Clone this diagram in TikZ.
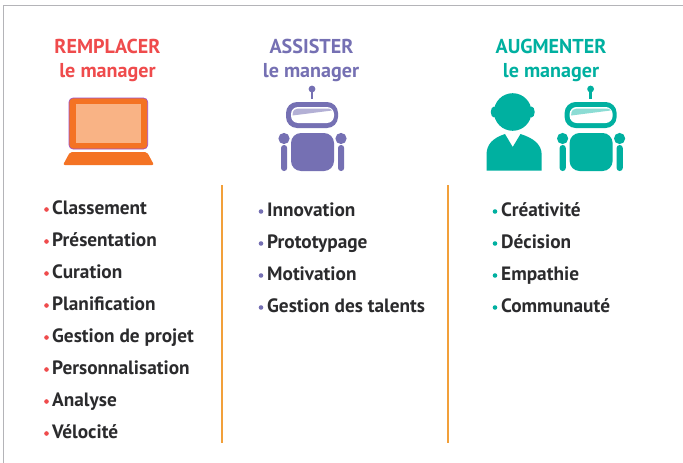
\documentclass[tikz,border=0pt]{standalone}
\usepackage{fontspec}
\setmainfont{PT Sans}
\definecolor{cred}{HTML}{EF4B4C}
\definecolor{cpur}{HTML}{7570B3}
\definecolor{cteal}{HTML}{00B0A0}
\definecolor{cor}{HTML}{F47324}
\definecolor{cscr}{HTML}{F9B385}
\definecolor{cline}{HTML}{F2A03A}
\definecolor{cframe}{HTML}{B4B4B8}
\definecolor{cink}{HTML}{2B2B2D}
\tikzset{
  x=1pt,y=-1pt,
  title/.style={font=\bfseries\fontsize{20.1}{21}\selectfont,anchor=base,inner sep=0pt},
  item/.style={font=\bfseries\fontsize{19.3}{20}\selectfont,text=cink,anchor=base west,inner sep=0pt},
  dotmark/.style={circle,inner sep=0pt,minimum size=4.6pt},
  sep/.style={draw=cline,line width=1.8pt},
}
\newcommand{\robot}[3]{% dx, colour, highlight
  \begin{scope}[xshift=#1pt]
    \fill[#2] (312,89) circle (3.4);
    \fill[#2] (310.8,90) rectangle (313.2,99);
    \fill[#2,rounded corners=11pt] (286,102) rectangle (338,128);
    \fill[white,rounded corners=7pt] (291,107) rectangle (334,123);
    \fill[#3] (292.5,115.5) .. controls (292.5,110) and (295,108.5) .. (298,108.5) -- (328,108.5) .. controls (330,108.5) and (331.5,109.5) .. (332,110.5) -- cycle;
    \fill[#2,rounded corners=10pt] (291,133) rectangle (334,171);
    \fill[#2] (284,138.5) circle (5.6);
    \fill[#2] (341,138.5) circle (5.6);
    \fill[#2,rounded corners=3pt] (281,145) rectangle (287.2,171);
    \fill[#2,rounded corners=3pt] (338,145) rectangle (344.2,171);
  \end{scope}}
\begin{document}
\begin{tikzpicture}
\useasboundingbox (0,0) rectangle (683,463);
\fill[white] (0,0) rectangle (683,463);
\draw[cframe,line width=1.2pt] (3.3,463) -- (3.3,5.8) -- (683,5.8);
% titles
\node[title,text=cred] (t1a) at (107.5,53) {REMPLACER};
\node[title,text=cred] (t1b) at (107.5,77) {le manager};
\node[title,text=cpur] (t2a) at (311.5,53) {ASSISTER};
\node[title,text=cpur] (t2b) at (311,77) {le manager};
\node[title,text=cteal] (t3a) at (551,53) {AUGMENTER};
\node[title,text=cteal] (t3b) at (551,77) {le manager};
% laptop
\fill[cor,draw=cpur!70!magenta,line width=.6pt,rounded corners=4pt] (69,98) rectangle (147.7,149);
\fill[cscr] (75.7,104) rectangle (141,143);
\fill[cor,rounded corners=2pt] (70,152) -- (147,152) -- (154,165) -- (63,165) -- cycle;
% robots
\robot{0}{cpur}{cpur!55}
\robot{278.6}{cteal}{cteal!45}
% person
\fill[cteal] (512.7,112) circle (18.8);
\fill[cteal] (494,112) ellipse (3.2 and 5.5);
\fill[cteal] (531.5,112) ellipse (3.2 and 5.5);
\fill[cteal] (486.5,170.7) -- (486.5,155) .. controls (486.5,144) and (493,138) .. (505,134) -- (512.7,147) -- (520.5,134) .. controls (533,138) and (541.7,144) .. (541.7,155) -- (541.7,170.7) -- cycle;
% separators
\coordinate (s1a) at (221.8,185); \coordinate (s1b) at (221.8,443);
\coordinate (s2a) at (448,185); \coordinate (s2b) at (448,443);
\draw[sep] (s1a) -- (s1b);
\draw[sep] (s2a) -- (s2b);
% lists
\foreach \t [count=\i] in {Classement,Présentation,Curation,Planification,Gestion de projet,Personnalisation,Analyse,Vélocité}{
  \node[item] (a\i) at (52,{214.5+(\i-1)*32}) {\t};
  \node[dotmark,fill=cred] (ad\i) at (46.5,{209.5+(\i-1)*32}) {};
}
\foreach \t [count=\i] in {Innovation,Prototypage,Motivation,Gestion des talents}{
  \node[item] (b\i) at (267,{216.5+(\i-1)*32}) {\t};
  \node[dotmark,fill=cpur] (bd\i) at (261,{211.5+(\i-1)*32}) {};
}
\foreach \t [count=\i] in {Créativité,Décision,Empathie,Communauté}{
  \node[item] (c\i) at (501,{216.5+(\i-1)*32}) {\t};
  \node[dotmark,fill=cteal] (cd\i) at (495,{211.5+(\i-1)*32}) {};
}
\end{tikzpicture}
\end{document}
